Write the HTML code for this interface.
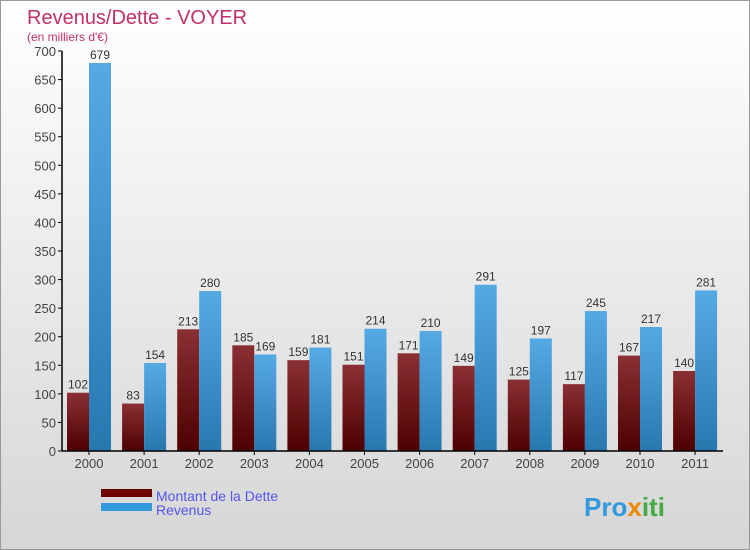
<!DOCTYPE html>
<html><head><meta charset="utf-8"><style>
body{margin:0}
#c{width:750px;height:550px;position:relative;background:linear-gradient(#ffffff,#d6d6d6);border:1px solid #999;box-sizing:border-box;font-family:"Liberation Sans",sans-serif;overflow:hidden}
</style></head><body>
<div id="c">
<svg width="750" height="550" id="s">
<defs>
<linearGradient id="gd" x1="0" y1="0" x2="0" y2="1"><stop offset="0" stop-color="#8a3034"/><stop offset="1" stop-color="#4e0000"/></linearGradient>
<linearGradient id="gr" x1="0" y1="0" x2="0" y2="1"><stop offset="0" stop-color="#56aae4"/><stop offset="1" stop-color="#2878b0"/></linearGradient>
</defs>
<text x="26" y="23" font-size="20" fill="#c0306a">Revenus/Dette - VOYER</text>
<text x="26" y="40" font-size="12" fill="#c0306a">(en milliers d'€)</text>
<g id="g"></g>
<rect x="100" y="488" width="51" height="8" fill="#6a0000"/>
<rect x="100" y="502" width="51" height="8" fill="#3399dd"/>
<text x="155" y="500" font-size="14" fill="#5555ee">Montant de la Dette</text>
<text x="155" y="514" font-size="14" fill="#5555ee">Revenus</text>
<text x="583" y="515" font-size="26" font-weight="bold" fill="#3399dd">Pro<tspan fill="#ee8800">x</tspan><tspan fill="#44aa44">iti</tspan></text>
</svg>
</div>
<script>
const years=["2000","2001","2002","2003","2004","2005","2006","2007","2008","2009","2010","2011"];
const dette=[102,83,213,185,159,151,171,149,125,117,167,140];
const revenus=[679,154,280,169,181,214,210,291,197,245,217,281];
const ticks=[0,50,100,150,200,250,300,350,400,450,500,550,600,650,700];
const NS="http://www.w3.org/2000/svg";
const g=document.getElementById('g');
const y0=450,ppu=400/700,x0=61,step=55.1;
const Y=v=>y0-v*ppu;
const X=i=>x0+27+i*step;
function el(t,a){const e=document.createElementNS(NS,t);for(const k in a)e.setAttribute(k,a[k]);g.appendChild(e);return e;}
ticks.forEach(t=>{
 const l=el('line',{x1:x0-4,x2:x0,y1:Y(t),y2:Y(t),stroke:'#000'});
 
 
 const tx=el('text',{x:x0-6,y:Y(t)+5,'font-size':13,fill:'#444','text-anchor':'end'});
 tx.textContent=t;
 
 
});
years.forEach((yr,i)=>{
 const c=X(i);
 const b1=el('rect',{x:c-22,y:Y(dette[i]),width:22,height:dette[i]*ppu,fill:'url(#gd)'});
 
 
 const b2=el('rect',{x:c,y:Y(revenus[i]),width:22,height:revenus[i]*ppu,fill:'url(#gr)'});
 
 
 const t1=el('text',{x:c-11,y:Y(dette[i])-4,'font-size':12,fill:'#333','text-anchor':'middle'});
 t1.textContent=dette[i];
 
 
 const t2=el('text',{x:c+11,y:Y(revenus[i])-4,'font-size':12,fill:'#333','text-anchor':'middle'});
 t2.textContent=revenus[i];
 
 
 const tk=el('line',{x1:c,x2:c,y1:y0,y2:y0+4,stroke:'#000'});
 
 
 const xl=el('text',{x:c,y:467,'font-size':13,fill:'#444','text-anchor':'middle'});
 xl.textContent=yr;
 
 
});
const ya=el('line',{x1:x0,x2:x0,y1:Y(700),y2:y0,stroke:'#000','stroke-width':1.5});


const xa=el('line',{x1:x0,x2:722,y1:y0,y2:y0,stroke:'#000','stroke-width':1.5});


</script>
</body></html>
